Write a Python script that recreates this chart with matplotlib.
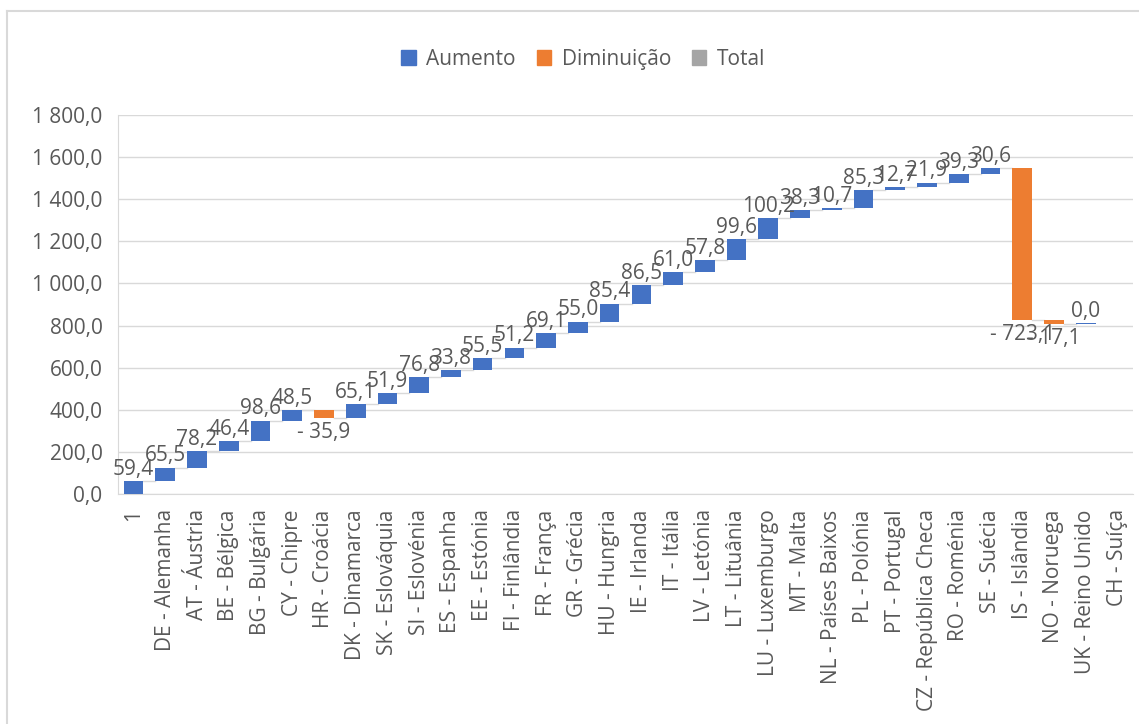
import numpy as np
import matplotlib
matplotlib.use("Agg")
import matplotlib.pyplot as plt
from matplotlib.patches import Patch
from matplotlib.lines import Line2D

plt.rcParams['font.family'] = ['Open Sans', 'DejaVu Sans']

categories = ["1", "DE - Alemanha", "AT - Áustria", "BE - Bélgica", "BG - Bulgária",
              "CY - Chipre", "HR - Croácia", "DK - Dinamarca", "SK - Eslováquia",
              "SI - Eslovénia", "ES - Espanha", "EE - Estónia", "FI - Finlândia",
              "FR - França", "GR - Grécia", "HU - Hungria", "IE - Irlanda",
              "IT - Itália", "LV - Letónia", "LT - Lituânia", "LU - Luxemburgo",
              "MT - Malta", "NL - Países Baixos", "PL - Polónia", "PT - Portugal",
              "CZ - República Checa", "RO - Roménia", "SE - Suécia", "IS - Islândia",
              "NO - Noruega", "UK - Reino Unido", "CH - Suíça"]
values = [59.4, 65.5, 78.2, 46.4, 98.6, 48.5, -35.9, 65.1, 51.9, 76.8, 33.8, 55.5,
          51.2, 69.1, 55.0, 85.4, 86.5, 61.0, 57.8, 99.6, 100.2, 38.3, 10.7, 85.3,
          12.7, 21.9, 39.3, 30.6, -723.1, -17.1, 0.0, np.nan]

blue = "#4472C4"
orange = "#ED7D31"
gray = "#A5A5A5"
txt = "#595959"
fs = 15

def fmt(v):
    s = f"{abs(v):,.1f}".replace(",", " ").replace(".", ",")
    return ("- " + s) if v < 0 else s

fig = plt.figure(figsize=(11.39, 7.24), dpi=100)
ax = fig.add_axes([0.1033, 0.3177, 0.8917, 0.5235])

w = 0.62
cum = 0.0
ends = []
for i, v in enumerate(values):
    if np.isnan(v):
        ends.append(None)
        continue
    start = cum
    cum = cum + v
    ends.append(cum)
    col = orange if v < 0 else blue
    h = v if abs(v) > 0.5 else 4
    ax.bar(i, h, bottom=start, width=w, color=col, zorder=3)
    if v < 0:
        ax.annotate(fmt(v), (i, cum), xytext=(0, -3), textcoords="offset points",
                    ha="center", va="top", fontsize=fs, color=txt, zorder=4)
    else:
        ax.annotate(fmt(v), (i, start + h), xytext=(0, 1),
                    textcoords="offset points", ha="center", va="bottom",
                    fontsize=fs, color=txt, zorder=4)

# connector lines
for i in range(len(values) - 1):
    if ends[i] is not None and ends[i + 1] is not None:
        ax.plot([i + w / 2, i + 1 - w / 2], [ends[i], ends[i]], color="#D9D9D9",
                lw=1, zorder=2)

ax.set_xlim(-0.5, len(categories) - 0.5)
ax.set_ylim(0, 1800)
ax.set_yticks(np.arange(0, 1801, 200))
ax.set_yticklabels([fmt(t) for t in np.arange(0, 1801, 200)])
ax.set_xticks(range(len(categories)))
ax.set_xticklabels(categories, rotation=90)
ax.tick_params(axis="both", length=0, colors=txt, labelsize=fs)
ax.tick_params(axis="x", pad=11)
ax.tick_params(axis="y", pad=11)
ax.grid(axis="y", color="#D9D9D9", lw=1, zorder=0)
for s in ["top", "right"]:
    ax.spines[s].set_visible(False)
for s in ["left", "bottom"]:
    ax.spines[s].set_color("#D9D9D9")

handles = [Patch(color=blue, label="Aumento"), Patch(color=orange, label="Diminuição"),
           Patch(color=gray, label="Total")]
fig.legend(handles=handles, loc="center", bbox_to_anchor=(0.512, 0.918), ncol=3,
           frameon=False, fontsize=fs, handlelength=0.7, handleheight=0.7,
           columnspacing=1.0, handletextpad=0.5, labelcolor=txt)

# outer chart border
fig.add_artist(Line2D([0.0065, 1.0], [0.985, 0.985], color="#D9D9D9", lw=1.5))
fig.add_artist(Line2D([0.0065, 0.0065], [0.0, 0.985], color="#D9D9D9", lw=1.5))

fig.savefig("out.png", dpi=100)
